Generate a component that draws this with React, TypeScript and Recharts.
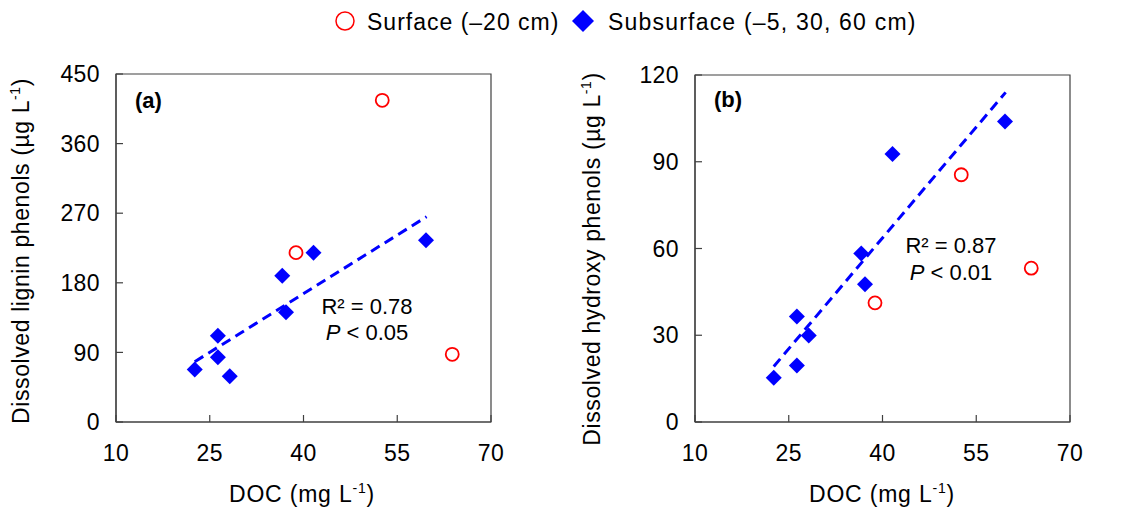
import { ReferenceArea, Scatter, ScatterChart, XAxis, YAxis } from "recharts";

const FONT = "'Liberation Sans', Arial, Helvetica, sans-serif";
const AXIS = "#404040";
const BLUE = "#0000FF";
const RED = "#FF0000";

// axis ticks
const docTicks = [10, 25, 40, 55, 70];
const ligninTicks = [0, 90, 180, 270, 360, 450];
const hydroxyTicks = [0, 30, 60, 90, 120];

// surface samples (-20 cm)
const surfaceDoc = [52.6, 38.8, 63.8];
const surfaceLignin = [416, 219, 87.5];
const surfaceHydroxy = [85.5, 41.2, 53.2];

// subsurface samples (-5, 30, 60 cm)
const subDoc = [41.6, 36.6, 37.2, 59.6, 26.3, 26.3, 22.6, 28.2];
const subLignin = [219, 189, 142, 235, 111.6, 83.6, 68, 59];
const subHydroxy = [92.7, 58.3, 47.6, 103.9, 36.5, 19.5, 15.3, 29.9];

// regression lines (subsurface), end points
const fitDoc = [22.6, 59.7];
const fitLignin = [78, 265.5];
const fitHydroxy = [19.2, 114];

const zip = (xs: number[], ys: number[]) => xs.map((x, i) => ({ x, y: ys[i] }));

const Diamond = (props: any) => {
  const { cx, cy } = props;
  const s = 8;
  return <polygon points={`${cx},${cy - s} ${cx + s},${cy} ${cx},${cy + s} ${cx - s},${cy}`} fill={BLUE} />;
};

const OpenCircle = (props: any) => (
  <circle cx={props.cx} cy={props.cy} r={6.5} fill="none" stroke={RED} strokeWidth={1.8} />
);

const NoDot = () => <g />;

type PanelProps = {
  surface: number[];
  sub: number[];
  fit: number[];
  yTicks: number[];
  yMax: number;
  top: number;
  yAxisWidth: number;
  right: number;
};

function Panel({ surface, sub, fit, yTicks, yMax, top, yAxisWidth, right }: PanelProps) {
  const tickStyle = { fill: "#000", fontSize: 23, fontFamily: FONT, letterSpacing: 0.4 };
  return (
    <ScatterChart width={567} height={521} margin={{ top, right, bottom: 0, left: 0 }}>
      <XAxis
        type="number"
        dataKey="x"
        domain={[10, 70]}
        ticks={docTicks}
        interval={0}
        height={99}
        tick={tickStyle}
        tickSize={-7}
        tickMargin={30}
        axisLine={{ stroke: AXIS, strokeWidth: 1.2 }}
        tickLine={{ stroke: AXIS, strokeWidth: 1.2 }}
      />
      <YAxis
        type="number"
        dataKey="y"
        domain={[0, yMax]}
        ticks={yTicks}
        interval={0}
        width={yAxisWidth}
        tick={tickStyle}
        tickSize={-7}
        tickMargin={23}
        axisLine={{ stroke: AXIS, strokeWidth: 1.2 }}
        tickLine={{ stroke: AXIS, strokeWidth: 1.2 }}
      />
      <ReferenceArea x1={10} x2={70} y1={0} y2={yMax} fill="none" stroke={AXIS} strokeWidth={1.2} />
      <Scatter
        data={zip(fitDoc, fit)}
        line={{ stroke: BLUE, strokeWidth: 3, strokeDasharray: "10 6" }}
        shape={NoDot}
        isAnimationActive={false}
      />
      <Scatter data={zip(subDoc, sub)} shape={Diamond} isAnimationActive={false} />
      <Scatter data={zip(surfaceDoc, surface)} shape={OpenCircle} isAnimationActive={false} />
    </ScatterChart>
  );
}

const Sup = () => (
  <>
    <tspan dy={-9} fontSize={14}>-1</tspan>
    <tspan dy={9}>)</tspan>
  </>
);

export default function App() {
  return (
    <div style={{ position: "absolute", left: 0, top: 0, width: 1134, height: 521, background: "#fff" }}>
      <div style={{ position: "absolute", left: 0, top: 0 }}>
        <Panel surface={surfaceLignin} sub={subLignin} fit={fitLignin} yTicks={ligninTicks} yMax={450} top={74} yAxisWidth={116} right={76} />
      </div>
      <div style={{ position: "absolute", left: 567, top: 0 }}>
        <Panel surface={surfaceHydroxy} sub={subHydroxy} fit={fitHydroxy} yTicks={hydroxyTicks} yMax={120} top={75} yAxisWidth={128} right={64} />
      </div>
      <svg width={1134} height={521} style={{ position: "absolute", left: 0, top: 0, pointerEvents: "none" }} fontFamily={FONT} fill="#000">
        {/* legend */}
        <circle cx={345} cy={21} r={9} fill="none" stroke={RED} strokeWidth={1.5} />
        <text x={367} y={30} fontSize={23} letterSpacing={1}>Surface (–20 cm)</text>
        <polygon points="583,10 594,21 583,32 572,21" fill={BLUE} />
        <text x={608} y={30} fontSize={23} letterSpacing={1.2}>Subsurface (–5, 30, 60 cm)</text>

        {/* panel (a) */}
        <text x={135} y={108} fontSize={22} fontWeight="bold">(a)</text>
        <text x={367} y={314} fontSize={22} textAnchor="middle">R² = 0.78</text>
        <text x={367} y={340} fontSize={22} textAnchor="middle"><tspan fontStyle="italic">P</tspan> &lt; 0.05</text>
        <text x={302} y={502} fontSize={23} letterSpacing={0.8} textAnchor="middle">DOC (mg L<Sup /></text>
        <text transform="translate(29,251) rotate(-90)" fontSize={23} letterSpacing={0.6} textAnchor="middle">Dissolved lignin phenols (µg L<Sup /></text>

        {/* panel (b) */}
        <text x={714} y={107} fontSize={22} fontWeight="bold">(b)</text>
        <text x={951} y={253} fontSize={22} textAnchor="middle">R² = 0.87</text>
        <text x={951} y={280} fontSize={22} textAnchor="middle"><tspan fontStyle="italic">P</tspan> &lt; 0.01</text>
        <text x={882} y={502} fontSize={23} letterSpacing={0.8} textAnchor="middle">DOC (mg L<Sup /></text>
        <text transform="translate(600,259) rotate(-90)" fontSize={23} letterSpacing={0.6} textAnchor="middle">Dissolved hydroxy phenols (µg L<Sup /></text>
      </svg>
    </div>
  );
}
